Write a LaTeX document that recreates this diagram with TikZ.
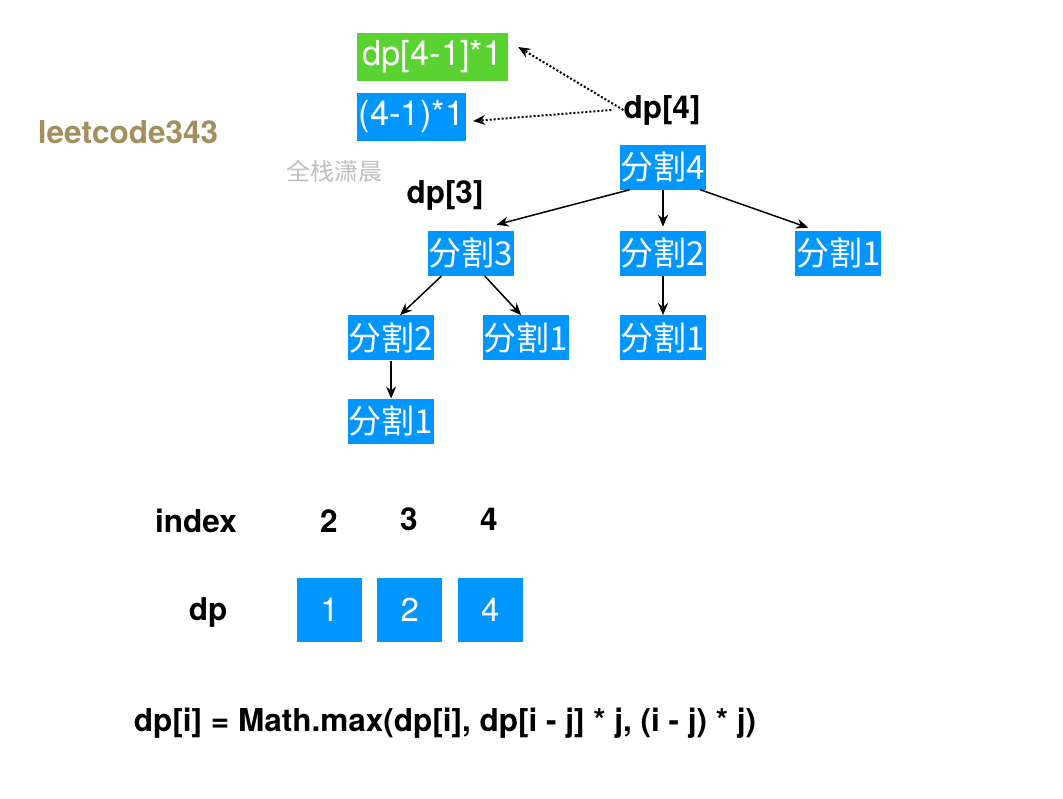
\documentclass[tikz,border=0pt]{standalone}
\usepackage{fontspec}
\setmainfont{TeX Gyre Heros}
\newfontfamily\cjk{Noto Sans CJK SC}
\usetikzlibrary{arrows.meta,positioning}
\definecolor{boxblue}{RGB}{0,150,255}
\definecolor{boxgreen}{RGB}{90,210,50}
\definecolor{titlegold}{RGB}{162,143,93}
\newcommand{\boxfont}{\fontsize{33}{39}\selectfont}
\newcommand{\labfont}{\fontsize{31.5}{37}\selectfont\bfseries}
\tikzset{%
splitnode/.style={rectangle, fill=boxblue, text=white, inner sep=0pt, minimum width=86pt, minimum height=45pt, font=\boxfont\cjk},
cellnode/.style={rectangle, fill=boxblue, text=white, inner sep=0pt, minimum width=65pt, minimum height=64pt, font=\boxfont},
labnode/.style={inner sep=0pt, font=\labfont},
arr/.style={draw=black, line width=1.5pt, -{Stealth[length=12pt,width=10pt]}},
dotarr/.style={draw=black, line width=2pt, dotted, -{Stealth[length=12pt,width=10pt]}}
}

\begin{document}
\begin{tikzpicture}[x=1pt,y=-1pt]
		\useasboundingbox (0,0) rectangle (1063,798);
		% title and watermark
		\node[labnode, text=titlegold] (title) at (128,132) {leetcode343};
		\node[inner sep=0pt, text=gray!50, font=\fontsize{24}{28}\selectfont\cjk] (mark) at (334,171) {全栈潇晨};
		
		% the two ways to reach dp[4]
		\node[splitnode, fill=boxgreen, minimum width=151pt, minimum height=48pt, font=\fontsize{34.5}{40}\selectfont] (fromdp) at (432.5,57) {dp[4-1]*1};
		\node[splitnode, minimum width=109pt, minimum height=48pt, font=\fontsize{34.5}{40}\selectfont] (direct) at (411.5,117) {(4-1)*1};
		\node[labnode] (dpfour) at (662,110) {dp[4]};
		\node[labnode] (dpthree) at (445,195) {dp[3]};
		
		\draw[dotarr] (dpfour.west) -- ([xshift=10pt,yshift=10pt]fromdp.east);
		\draw[dotarr] ([xshift=-12pt]dpfour.west) -- ([xshift=7pt,yshift=-4pt]direct.east);
		
		% split tree
		\node[splitnode] (four) at (663,167) {分割4};
		\node[splitnode] (twoB) [below=41pt of four] {分割2};
		\node[splitnode] (threeB) [left=106pt of twoB] {分割3};
		\node[splitnode] (oneA) [right=89pt of twoB] {分割1};
		\node[splitnode] (twoA) [below=39pt of threeB, xshift=-79.5pt] {分割2};
		\node[splitnode] (oneB) [below=39pt of threeB, xshift=55.5pt] {分割1};
		\node[splitnode] (oneC) [below=39pt of twoB] {分割1};
		\node[splitnode] (oneD) [below=38pt of twoA] {分割1};
		
		\draw[arr] ([xshift=10pt]four.south west) -- ([xshift=26pt,yshift=6pt]threeB.north);
		\draw[arr] (four.south) -- ([yshift=4pt]twoB.north);
		\draw[arr] ([xshift=-6pt]four.south east) -- ([xshift=13pt,yshift=3pt]oneA.north west);
		\draw[arr] ([xshift=14pt]threeB.south west) -- ([xshift=9pt]twoA.north);
		\draw[arr] ([xshift=-29pt]threeB.south east) -- ([xshift=-5pt]oneB.north);
		\draw[arr] (twoA) -- (oneD);
		\draw[arr] (twoB) -- (oneC);
		
		% dp table
		\node[labnode] (index) at (196,521) {index};
		\node[labnode] (idxtwo) at (329,521) {2};
		\node[labnode] (idxthree) at (409,519) {3};
		\node[labnode] (idxfour) at (489,519) {4};
		\node[labnode] (dplab) at (208,612) {dp};
		\node[cellnode] (cellone) at (329.5,610) {1};
		\node[cellnode] (celltwo) [right=15pt of cellone] {2};
		\node[cellnode] (cellfour) [right=15pt of celltwo] {4};
		
		\node[labnode] (formula) at (445,723) {dp[i] = Math.max(dp[i], dp[i - j] * j, (i - j) * j)};
	\end{tikzpicture}
\end{document}
